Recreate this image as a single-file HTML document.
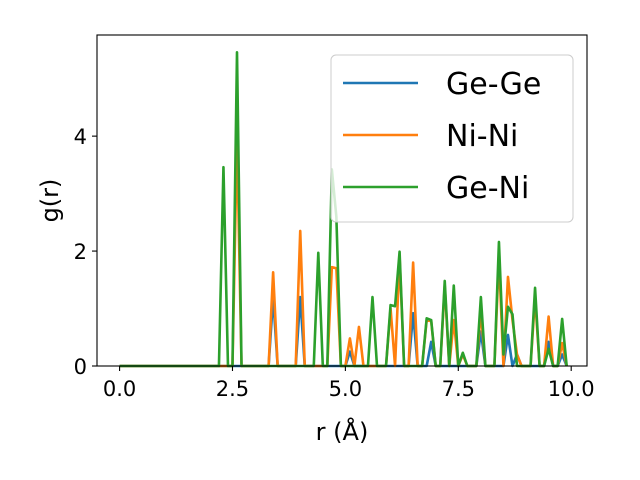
<!DOCTYPE html>
<html><head><meta charset="utf-8"><style>
body{margin:0;background:#fff;}
svg{display:block;font-family:"DejaVu Sans","Liberation Sans",sans-serif;}
</style></head><body>
<svg id="chart" width="640" height="480" viewBox="0 0 640 480">
<rect x="0" y="0" width="640" height="480" fill="#fff"/>
<g id="plot"></g>
</svg>
<script>
const categories = Array.from({length:100},(_, i)=>i/10);
const geGe = [
0,0,0,0,0,0,0,0,0,0,
0,0,0,0,0,0,0,0,0,0,
0,0,0,0,0,0,0,0,0,0,
0,0,0,0,1.2,0,0,0,0,0,
1.2,0,0,0,0,0,0,0,0,0,
0,0.25,0,0,0,0,0,0,0,0,
0,0,0,0,0,0.92,0,0,0,0.42,
0,0,0,0,0,0,0,0,0,0,
0.6,0,0,0,0,0,0.54,0,0.2,0,
0,0,0,0,0,0.42,0,0,0.2,0];
const niNi = [
0,0,0,0,0,0,0,0,0,0,
0,0,0,0,0,0,0,0,0,0,
0,0,0,0,0,0,4.0,0,0,0,
0,0,0,0,1.63,0,0,0,0,0,
2.35,0,0,0,0,0,0,1.72,1.7,0,
0,0.48,0,0.68,0,0,0,0,0,0,
1.0,0,1.9,0,0,1.8,0,0,0.8,0.78,
0,0,1.4,0,0.8,0,0.2,0,0,0,
0.95,0,0,0,1.9,0,1.55,0.8,0.2,0,
0,0,1.2,0,0,0.86,0,0,0.4,0];
const geNi = [
0,0,0,0,0,0,0,0,0,0,
0,0,0,0,0,0,0,0,0,0,
0,0,0,3.46,0,0,5.46,0,0,0,
0,0,0,0,0,0,0,0,0,0,
0,0,0,0,1.97,0,0,3.42,2.6,0,
0,0,0,0,0,0,1.2,0,0,0,
1.06,1.04,1.99,0,0,0,0,0,0.83,0.8,
0,0,1.48,0,1.4,0,0.23,0,0,0,
1.2,0,0,0,2.16,0.2,1.03,0.9,0,0,
0,0,1.36,0,0,0.3,0,0,0.82,0];
const xTicks = [0, 2.5, 5, 7.5, 10];
const xTickLabels = ["0.0","2.5","5.0","7.5","10.0"];
const yTicks = [0, 2, 4];
const yTickLabels = ["0","2","4"];
const seriesNames = ["Ge-Ge","Ni-Ni","Ge-Ni"];

const L=97,R=587,T=35,B=366;
const xmin=-0.5, xmax=10.35, ymin=0, ymax=5.76;
const X=v=>L+(v-xmin)/(xmax-xmin)*(R-L);
const Y=v=>B-(v-ymin)/(ymax-ymin)*(B-T);
const NS="http://www.w3.org/2000/svg";
const g=document.getElementById('plot');
function mk(t,a,p){const e=document.createElementNS(NS,t);for(const k in a)e.setAttribute(k,a[k]);(p||g).appendChild(e);return e;}

const colors=["#1f77b4","#ff7f0e","#2ca02c"];
const series=[geGe,niNi,geNi];
series.forEach((s,si)=>{
  const d=s.map((v,i)=>(i?'L':'M')+X(categories[i]).toFixed(2)+','+Y(v).toFixed(2)).join(' ');
  const p=mk('path',{d:d,fill:'none',stroke:colors[si],'stroke-width':2.6,'stroke-linejoin':'round'});
  
  
});

const frame=mk('rect',{x:L,y:T,width:R-L,height:B-T,fill:'none',stroke:'#000','stroke-width':1.1});



xTicks.forEach((v,i)=>{
  const t=mk('line',{x1:X(v),x2:X(v),y1:B,y2:B+5,stroke:'#000','stroke-width':1.1});
  
  
  const tx=mk('text',{x:X(v),y:B+30,'text-anchor':'middle','font-size':21});
  tx.textContent=xTickLabels[i];
  
  
});
yTicks.forEach((v,i)=>{
  const t=mk('line',{x1:L-5,x2:L,y1:Y(v),y2:Y(v),stroke:'#000','stroke-width':1.1});
  
  
  const tx=mk('text',{x:L-10,y:Y(v)+8,'text-anchor':'end','font-size':21});
  tx.textContent=yTickLabels[i];
  
  
});
const xl=mk('text',{x:(L+R)/2,y:440,'text-anchor':'middle','font-size':24});
xl.textContent='r (Å)';


const yl=mk('text',{x:58,y:(T+B)/2,'text-anchor':'middle','font-size':24,transform:'rotate(-90 58 '+((T+B)/2)+')'});
yl.textContent='g(r)';



const lg=mk('g',{});


const lb=mk('rect',{x:331,y:55,width:242,height:167,rx:5,fill:'#fff','fill-opacity':0.8,stroke:'#ccc','stroke-width':1},lg);


seriesNames.forEach((n,i)=>{
  const y=83+i*52;
  const ln=mk('line',{x1:343,x2:418,y1:y,y2:y,stroke:colors[i],'stroke-width':2.6},lg);
  
  
  const tx=mk('text',{x:446,y:y+11,'font-size':30},lg);
  tx.textContent=n;
  
  
});
</script>
</body></html>
